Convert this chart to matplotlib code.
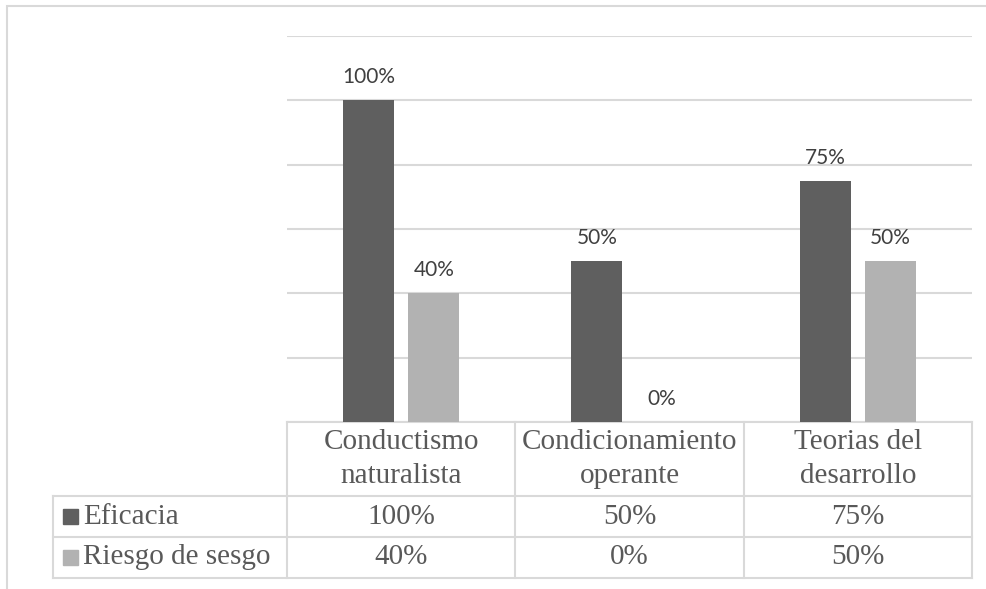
import matplotlib
matplotlib.use('Agg')
import matplotlib.pyplot as plt
from matplotlib.patches import Rectangle
import numpy as np

# Data
categories = ['Conductismo\nnaturalista', 'Condicionamiento\noperante', 'Teorias del\ndesarrollo']
series_names = ['Eficacia', 'Riesgo de sesgo']
eficacia = [100, 50, 75]
riesgo = [40, 0, 50]
y_ticks = [0, 20, 40, 60, 80, 100, 120]

colors = ['#5f5f5f', '#b2b2b2']
grid_col = '#d9d9d9'
label_col = '#404040'
table_col = '#595959'

fig = plt.figure(figsize=(9.87, 5.89), dpi=100)
W, H = 987, 589

# outer chart frame (only top/left visible in the picture)
fig.patches.append(Rectangle((7 / W, -0.05), 1.2, 1 - 6 / H + 0.05,
                             transform=fig.transFigure, fill=False,
                             edgecolor=grid_col, linewidth=1.5))

ax = fig.add_axes([287 / W, (H - 422) / H, 685 / W, 386 / H])

x = np.arange(len(categories))
bw = 0.224
off = 0.143
series = [eficacia, riesgo]
for i, vals in enumerate(series):
    bars = ax.bar(x + (2 * i - 1) * off, vals, bw, color=colors[i], zorder=3)
    for b, v in zip(bars, vals):
        ax.annotate(f'{v}%', (b.get_x() + b.get_width() / 2, v),
                    xytext=(0, 16.5), textcoords='offset points',
                    ha='center', va='center', fontsize=15,
                    family=['Lato', 'DejaVu Sans'], color=label_col)

ax.set_xlim(-0.5, 2.5)
ax.set_ylim(0, 120)
ax.set_yticks(y_ticks)
ax.yaxis.grid(True, color=grid_col, linewidth=1.5, zorder=0)
ax.set_xticks([])
ax.tick_params(left=False, labelleft=False)
for s in ax.spines.values():
    s.set_visible(False)

# data table under the chart (axes-fraction coordinates)
ta = ax.transAxes
row_y = [0, -74 / 386, -115 / 386, -156 / 386]
col_x = [0, 1 / 3, 2 / 3, 1]
left_x = -234 / 685
lk = dict(transform=ta, color=grid_col, linewidth=1.5, clip_on=False)

ax.plot([0, 1], [row_y[0], row_y[0]], **lk)
for yy in row_y[1:]:
    ax.plot([left_x, 1], [yy, yy], **lk)
for xx in col_x:
    ax.plot([xx, xx], [row_y[0], row_y[3]], **lk)
ax.plot([left_x, left_x], [row_y[1], row_y[3]], **lk)

tk = dict(transform=ta, fontsize=21, family=['Liberation Serif', 'DejaVu Serif'],
          color=table_col, va='center', clip_on=False)
for j, c in enumerate(categories):
    ax.text((col_x[j] + col_x[j + 1]) / 2, (row_y[0] + row_y[1]) / 2, c,
            ha='center', linespacing=1.36, **tk)

for i, name in enumerate(series_names):
    yc = (row_y[i + 1] + row_y[i + 2]) / 2
    ax.add_patch(Rectangle((10 / 685 + left_x, yc - 7.5 / 386), 15 / 685, 15 / 386,
                           transform=ta, color=colors[i], clip_on=False))
    ax.text(left_x + 30 / 685, yc, name, ha='left', **tk)
    for j, v in enumerate(series[i]):
        ax.text((col_x[j] + col_x[j + 1]) / 2, yc, f'{v}%', ha='center', **tk)

fig.savefig('out.png', dpi=100)
